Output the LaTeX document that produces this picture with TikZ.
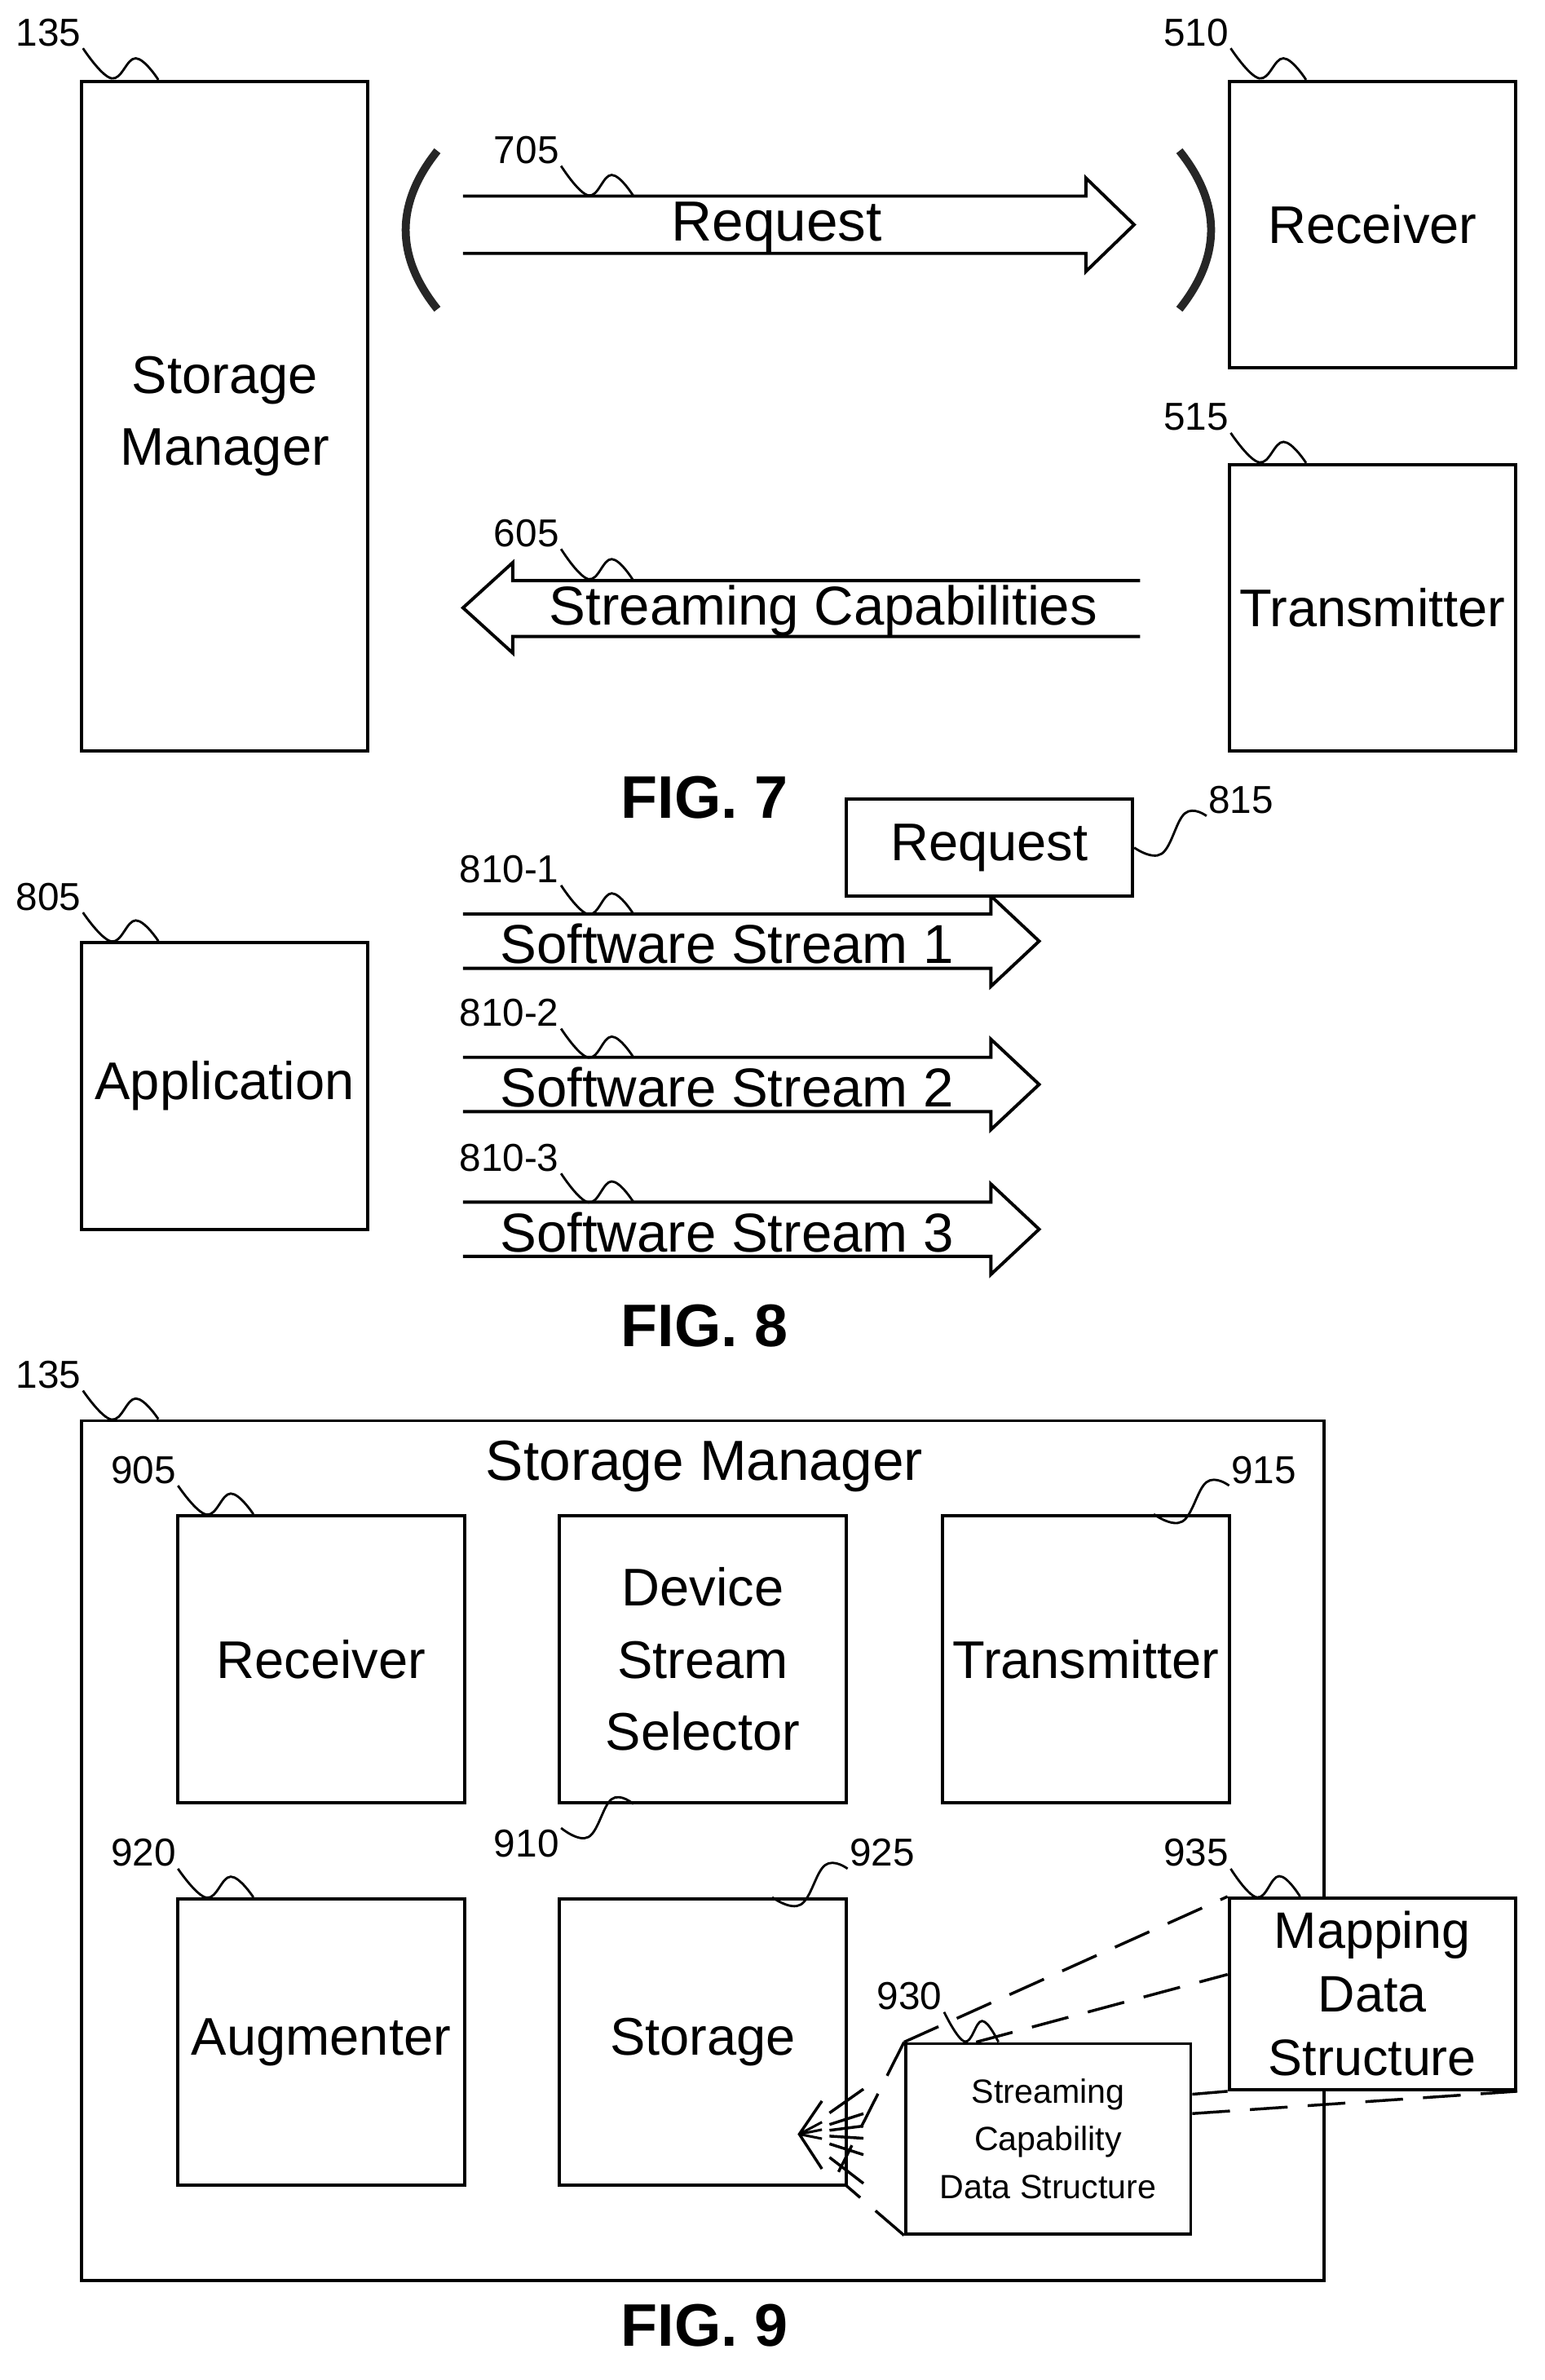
\documentclass[tikz,border=0pt]{standalone}
\usepackage{fontspec}
\setmainfont{Liberation Sans}
\usetikzlibrary{calc,positioning}
\tikzset{
    box/.style={draw, line width=1.8pt, inner sep=0pt, align=center, font=\fontsize{30}{41}\selectfont},
    ref/.style={inner sep=1pt, font=\fontsize{22}{24}\selectfont},
    lead/.style={line width=1.3pt},
    flow/.style={line width=1.8pt, line join=miter},
    proj/.style={line width=1.6pt, dash pattern=on 0.75cm off 0.4cm},
    fig/.style={font=\bfseries\fontsize{34}{36}\selectfont},
}
% leader line with a little wave, from a number to its part
\newcommand{\waveto}[2]{%
    \draw[lead] plot[smooth, tension=0.7] coordinates {(#1) ($(#1)!0.38!(#2)+(0,12)$) ($(#1)!0.7!(#2)+(0,-8)$) (#2)};
}
% open block arrow: \blockarrow{from x}{to x}{y}{half width}{head}
\newcommand{\blockarrow}[5]{%
    \draw[flow] (#1,#3-#4) -- ($(#2,#3-#4)-(#5,0)$) -- ($(#2,#3-#4-12)-(#5,0)$) -- (#2,#3)
        -- ($(#2,#3+#4+12)-(#5,0)$) -- ($(#2,#3+#4)-(#5,0)$) -- (#1,#3+#4);
}
\begin{document}
\begin{tikzpicture}[x=0.03cm, y=-0.03cm]
    \useasboundingbox (0,0) rectangle (1024,1578);

    % FIG. 7
    \node[box, minimum width=5.7cm, minimum height=13.32cm] (sm) at (149,276) {Storage\\Manager};
    \node[box, minimum width=5.7cm, minimum height=5.7cm] (rx) at (910,149) {Receiver};
    \node[box, minimum width=5.7cm, minimum height=5.7cm] (tx) at (910,403) {Transmitter};
    \node[ref, anchor=south east] (n135a) at (55,32) {135};
    \node[ref, anchor=south east] (n510) at (816,32) {510};
    \node[ref, anchor=south east] (n515) at (816,287) {515};
    \waveto{n135a.south east}{sm.north west -| 105,0}
    \waveto{n510.south east}{rx.north west -| 866,0}
    \waveto{n515.south east}{tx.north west -| 866,0}

    \blockarrow{307}{752}{149}{19}{32}
    \node[font=\fontsize{32}{36}\selectfont] (req) at (515,151) {Request};
    \path (756,385) coordinate (capa) (756,422) coordinate (capb);
    \draw[flow] (capa) -- (340,385) -- (340,373) -- (307,403) -- (340,433) -- (340,422) -- (capb);
    \node[font=\fontsize{31}{36}\selectfont] (cap) at (546,405) {Streaming Capabilities};
    \draw[line width=4.5pt, black!85] (290,100) .. controls (262,135) and (262,170) .. (290,205);
    \draw[line width=4.5pt, black!85] (782,100) .. controls (810,135) and (810,170) .. (782,205);
    \node[ref, anchor=south east] (n705) at (372,110) {705};
    \node[ref, anchor=south east] (n605) at (372,364) {605};
    \waveto{n705.south east}{420,130}
    \waveto{n605.south east}{420,385}
    \node[fig] (fig7) at (467,529) {FIG. 7};

    % FIG. 8
    \node[box, minimum width=5.7cm, minimum height=5.7cm] (app) at (149,720) {Application};
    \node[ref, anchor=south east] (n805) at (55,605) {805};
    \waveto{n805.south east}{app.north west -| 105,0}
    \foreach \y/\i in {624/1,719/2,815/3} {
        \blockarrow{307}{689}{\y}{18}{32}
        \node[font=\fontsize{31}{36}\selectfont] (sw\i) at (482,\y+2) {Software Stream \i};
        \node[ref, anchor=south east] (n810\i) at (372,\y-37) {810-\i};
        \waveto{n810\i.south east}{420,\y-18}
    }
    \node[box, fill=white, minimum width=5.7cm, minimum height=1.92cm] (rq) at (656,562) {Request};
    \node[ref, anchor=south west] (n815) at (800,541) {815};
    \waveto{rq.east}{n815.south west}
    \node[fig] (fig8) at (467,879) {FIG. 8};

    % FIG. 9
    \node[box, minimum width=24.72cm, minimum height=17.1cm] (sm9) at (466,1227) {};
    \node[font=\fontsize{32}{36}\selectfont] (smt) at (467,972) {Storage Manager};
    \node[ref, anchor=south east] (n135b) at (55,922) {135};
    \waveto{n135b.south east}{sm9.north west -| 105,0}
    \foreach \nm/\x/\y/\txt in {rx9/213/1100/Receiver, dss/466/1100/{Device\\Stream\\Selector},
            tx9/720/1100/Transmitter, aug/213/1354/Augmenter, sto/466/1354/Storage} {
        \node[box, minimum width=5.7cm, minimum height=5.7cm] (\nm) at (\x,\y) {\txt};
    }
    \node[ref, anchor=south east] (n905) at (118,985) {905};
    \waveto{n905.south east}{rx9.north west -| 168,0}
    \node[ref, anchor=south east] (n920) at (118,1239) {920};
    \waveto{n920.south east}{aug.north west -| 168,0}
    \node[ref, anchor=south west] (n915) at (815,985) {915};
    \waveto{tx9.north west -| 765,0}{n915.south west}
    \node[ref, anchor=south west] (n925) at (562,1239) {925};
    \waveto{sto.north west -| 512,0}{n925.south west}
    \node[ref, anchor=north east] (n910) at (372,1212) {910};
    \waveto{n910.north east}{dss.south west -| 420,0}

    \node[box, fill=white, minimum width=5.7cm, minimum height=3.81cm,
        font=\fontsize{29}{36}\selectfont] (mds) at (910,1322) {Mapping\\Data\\Structure};
    \node[box, fill=white, minimum width=5.67cm, minimum height=3.78cm,
        font=\fontsize{19}{27}\selectfont] (scd) at (695,1418) {Streaming\\Capability\\Data Structure};
    \node[ref, anchor=south east] (n935) at (816,1239) {935};
    \waveto{n935.south east}{mds.north west -| 862,0}
    \node[ref, anchor=south east] (n930) at (626,1334) {930};
    \waveto{n930.south east}{scd.north west -| 662,0}

    % projection of the data structure
    \draw[proj] (scd.north west) -- (mds.north west);
    \draw[proj] ($(scd.north west)!0.25!(scd.north east)$) -- ($(mds.north west)!0.4!(mds.south west)$);
    \draw[proj] ($(scd.north east)!0.27!(scd.south east)$) -- (mds.south west);
    \draw[proj] ($(scd.north east)!0.37!(scd.south east)$) -- (mds.south east);
    \coordinate (tip) at (530,1415);
    \draw[proj] (scd.north west) -- (556,1440);
    \draw[proj] (scd.south west) -- (561,1449);
    \foreach \dy in {-22,-10,-4,2,10,24} {
        \draw[line width=1.6pt] ($(tip)!0.4!(580,1415+\dy*1.6)$) -- ($(tip)!0.85!(580,1415+\dy*1.6)$);
    }
    \draw[line width=1.6pt] (545,1393) -- (tip) -- (545,1438);
    \foreach \dy in {-8,-3,3} {
        \draw[line width=1.4pt] (tip) -- (545,1415+\dy);
    }
    \node[fig] (fig9) at (467,1542) {FIG. 9};
\end{tikzpicture}
\end{document}
